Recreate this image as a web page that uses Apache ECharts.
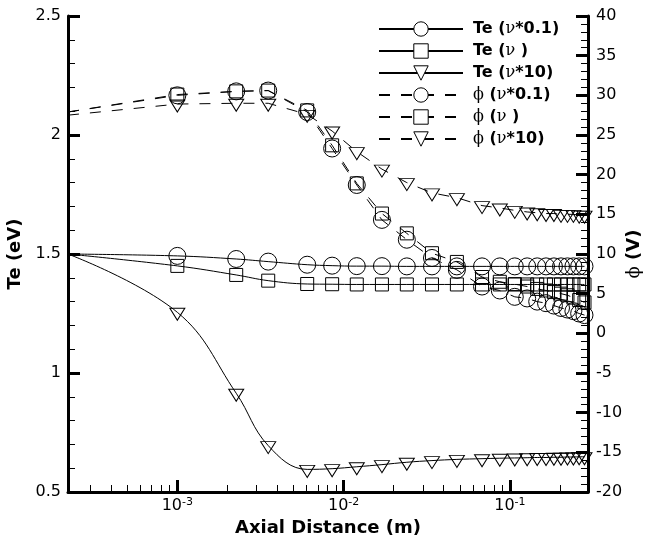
<!DOCTYPE html>
<html>
<head>
<meta charset="utf-8">
<title>Te and potential along the axis</title>
<script src="https://cdn.jsdelivr.net/npm/echarts@6/dist/echarts.min.js"></script>
<style>
    html, body { margin: 0; padding: 0; background: #fff; }
    #chart { width: 649px; height: 539px; }
</style>
</head>
<body>
<div id="chart"></div>
<script>
// axial positions (m), same grid for every curve
const distance = [0.00022, 0.001, 0.00226, 0.00352, 0.00604, 0.00853, 0.0120, 0.0170, 0.0240, 0.0340,
    0.0480, 0.0680, 0.087, 0.107, 0.127, 0.146, 0.165, 0.184, 0.203, 0.222, 0.241, 0.261, 0.281];

// electron temperature (eV), left axis
const teLow = [1.5, 1.492, 1.479, 1.468, 1.455, 1.451, 1.449, 1.449, 1.448, 1.448, 1.448, 1.448,
    1.448, 1.448, 1.448, 1.448, 1.448, 1.448, 1.448, 1.448, 1.448, 1.448, 1.448];
const teMid = [1.5, 1.450, 1.412, 1.388, 1.374, 1.373, 1.372, 1.372, 1.372, 1.372, 1.372, 1.372,
    1.372, 1.372, 1.372, 1.372, 1.372, 1.372, 1.372, 1.372, 1.372, 1.372, 1.372];
const teHigh = [1.5, 1.255, 0.915, 0.695, 0.595, 0.598, 0.606, 0.615, 0.625, 0.632, 0.637, 0.640,
    0.642, 0.643, 0.644, 0.645, 0.645, 0.646, 0.646, 0.647, 0.647, 0.648, 0.648];

// potential (V), right axis
const phiLow = [27.9, 30.0, 30.5, 30.6, 27.9, 23.3, 18.7, 14.3, 11.8, 9.5, 8.0, 5.9,
    5.4, 4.6, 4.4, 4.0, 3.8, 3.5, 3.2, 3.0, 2.8, 2.5, 2.3];
const phiMid = [27.9, 30.1, 30.5, 30.6, 28.1, 23.7, 18.9, 15.1, 12.6, 10.1, 9.0, 7.1,
    6.5, 6.2, 5.9, 5.6, 5.4, 5.2, 5.0, 4.8, 4.5, 4.2, 3.9];
const phiHigh = [27.5, 28.9, 29.0, 29.0, 27.6, 25.5, 22.9, 20.7, 19.0, 17.7, 17.1, 16.1,
    15.8, 15.5, 15.3, 15.2, 15.1, 15.1, 15.0, 15.0, 15.0, 14.9, 14.9];

const seriesNames = ['Te (ν*0.1)', 'Te (ν )', 'Te (ν*10)', 'ϕ (ν*0.1)', 'ϕ (ν )', 'ϕ (ν*10)'];

const decades = [0.001, 0.01, 0.1];
const minorTicks = [0.0003, 0.0004, 0.0005, 0.0006, 0.0007, 0.0008, 0.0009,
    0.002, 0.003, 0.004, 0.005, 0.006, 0.007, 0.008, 0.009,
    0.02, 0.03, 0.04, 0.05, 0.06, 0.07, 0.08, 0.09, 0.2];

const FONT = 'DejaVu Sans';
const GREEK = 'DejaVu Serif';

const markers = {
    circle: {symbol: 'circle', symbolSize: 17},
    square: {symbol: 'rect', symbolSize: 13},
    triangle: {symbol: 'triangle', symbolSize: [15, 12], symbolRotate: 180, symbolOffset: [0, 2]}
};

function curve(name, values, shape, dashed, yIndex) {
    return Object.assign({
        name: name,
        type: 'line',
        xAxisIndex: 0,
        yAxisIndex: yIndex,
        // first point sits on the left edge and carries no marker
        data: distance.map((x, i) => i === 0 ? {value: [x, values[i]], symbol: 'none'} : [x, values[i]]),
        showSymbol: true,
        showAllSymbol: true,
        smooth: dashed ? false : 0.4,
        lineStyle: {color: '#000', width: 1, type: dashed ? [11, 11] : 'solid'},
        itemStyle: {color: 'rgba(0,0,0,0)', borderColor: '#000', borderWidth: 1},
        emphasis: {disabled: true}
    }, markers[shape]);
}

const chart = echarts.init(document.getElementById('chart'));

const option = {
    animation: false,
    textStyle: {fontFamily: FONT},
    grid: {left: 68, right: 61, top: 16, bottom: 47, outerBoundsMode: 'none'},
    legend: {
        orient: 'vertical',
        left: 378,
        top: 21,
        padding: 0,
        itemWidth: 84,
        itemHeight: 18,
        itemGap: 6,
        data: seriesNames,
        itemStyle: {color: '#fff', borderColor: '#000', borderWidth: 1},
        formatter: name => name.replace(/([νϕ])/g, '{g|$1}'),
        textStyle: {
            fontFamily: FONT, fontSize: 16, fontWeight: 'bold', color: '#000',
            padding: [0, 0, 0, 5],
            rich: {g: {fontFamily: GREEK, fontSize: 16, fontWeight: 'normal', color: '#000'}}
        }
    },
    xAxis: [
        {
            type: 'log',
            min: 0.00022,
            max: 0.295,
            position: 'bottom',
            name: 'Axial Distance (m)',
            nameLocation: 'middle',
            nameGap: 19,
            nameTextStyle: {fontFamily: FONT, fontSize: 18, fontWeight: 'bold', color: '#000'},
            axisLine: {onZero: false, lineStyle: {color: '#000', width: 3}},
            axisTick: {inside: true, length: 12, customValues: decades, lineStyle: {color: '#000', width: 3}},
            axisLabel: {
                customValues: decades,
                margin: 5,
                formatter: v => '{b|10}{s|' + Math.round(Math.log10(v)) + '}',
                rich: {
                    b: {fontFamily: FONT, fontSize: 16, color: '#000', lineHeight: 18},
                    s: {fontFamily: FONT, fontSize: 11, color: '#000', verticalAlign: 'top'}
                }
            },
            splitLine: {show: false}
        },
        {
            // carries only the 2..9 minor ticks of each decade
            type: 'log',
            min: 0.00022,
            max: 0.295,
            position: 'bottom',
            axisLine: {show: false, onZero: false},
            axisTick: {inside: true, length: 7, customValues: minorTicks, lineStyle: {color: '#000', width: 1}},
            axisLabel: {show: false},
            splitLine: {show: false}
        }
    ],
    yAxis: [
        {
            type: 'value',
            min: 0.5,
            max: 2.5,
            interval: 0.5,
            position: 'left',
            name: 'Te (eV)',
            nameLocation: 'middle',
            nameGap: 40,
            nameTextStyle: {fontFamily: FONT, fontSize: 18, fontWeight: 'bold', color: '#000'},
            axisLine: {show: true, lineStyle: {color: '#000', width: 3}},
            axisTick: {show: true, inside: true, length: 12, lineStyle: {color: '#000', width: 3}},
            minorTick: {show: true, splitNumber: 5, length: 7, lineStyle: {color: '#000', width: 1}},
            axisLabel: {fontFamily: FONT, fontSize: 16, color: '#000', margin: 7},
            splitLine: {show: false}
        },
        {
            type: 'value',
            min: -20,
            max: 40,
            interval: 5,
            position: 'right',
            name: '{g|ϕ} (V)',
            nameLocation: 'middle',
            nameGap: 37,
            nameMoveOverlap: false,
            nameTextStyle: {
                fontFamily: FONT, fontSize: 18, fontWeight: 'bold', color: '#000',
                rich: {g: {fontFamily: GREEK, fontSize: 18, fontWeight: 'normal', color: '#000'}}
            },
            axisLine: {show: true, lineStyle: {color: '#000', width: 3}},
            axisTick: {show: true, inside: true, length: 12, lineStyle: {color: '#000', width: 3}},
            minorTick: {show: true, splitNumber: 5, length: 7, lineStyle: {color: '#000', width: 1}},
            axisLabel: {fontFamily: FONT, fontSize: 16, color: '#000', margin: 8},
            splitLine: {show: false}
        }
    ],
    series: [
        curve(seriesNames[0], teLow, 'circle', false, 0),
        curve(seriesNames[1], teMid, 'square', false, 0),
        curve(seriesNames[2], teHigh, 'triangle', false, 0),
        curve(seriesNames[3], phiLow, 'circle', true, 1),
        curve(seriesNames[4], phiMid, 'square', true, 1),
        curve(seriesNames[5], phiHigh, 'triangle', true, 1)
    ]
};

chart.setOption(option);
</script>
</body>
</html>
